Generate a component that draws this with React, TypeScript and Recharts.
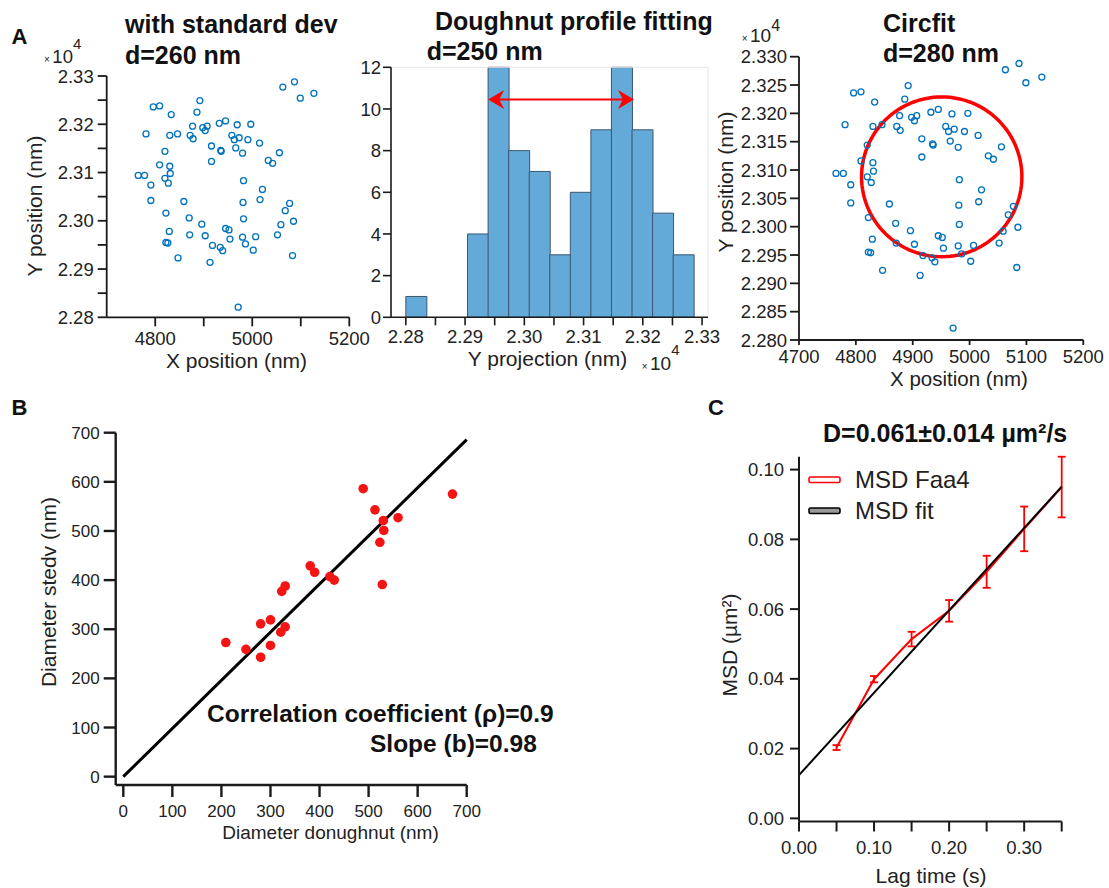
import React from "react";
import {
  ComposedChart,
  BarChart,
  Bar,
  Scatter,
  Line,
  XAxis,
  YAxis,
  ErrorBar,
  ReferenceLine,
  Legend,
} from "recharts";

const FONT = "Arial, 'Liberation Sans', sans-serif";
const INK = "#222";

// Panel A: single-molecule localisations (nm)
const LOC_X = [
  5063, 5087, 5099, 5127, 4796, 4809, 4892, 4886, 4833, 4781, 4830, 4846, 4877, 4872, 4878, 4898,
  4907, 4903, 4932, 4945, 4969, 4997, 4958, 4963, 4973, 4991, 4966, 4980, 5015, 4916, 4935, 4936,
  4916, 4820, 4809, 4830, 4831, 4820, 4827, 4765, 4778, 4791, 4791, 5033, 5042, 5056, 4982, 5021,
  5016, 4981, 5077, 5068, 4859, 4822, 4870, 4896, 4982, 5059, 5085, 4829, 4871, 4903, 4945, 4952,
  4980, 5007, 5052, 4954, 4986, 4822, 4826, 4918, 4934, 4939, 5002, 4847, 4913, 5083, 4971,
];
const LOC_Y = [
  23277, 23288, 23254, 23264, 23236, 23238, 23249, 23225, 23220, 23180, 23177, 23180, 23196, 23177,
  23170, 23193, 23196, 23187, 23202, 23207, 23199, 23200, 23177, 23168, 23172, 23168, 23151, 23140,
  23161, 23155, 23146, 23144, 23123, 23144, 23116, 23113, 23098, 23088, 23078, 23094, 23094, 23074,
  23042, 23125, 23119, 23141, 23083, 23065, 23044, 23038, 23036, 23021, 23040, 23016, 23006, 22993,
  23004, 22992, 22999, 22978, 22971, 22969, 22984, 22981, 22966, 22967, 22971, 22962, 22952, 22955,
  22954, 22949, 22945, 22938, 22939, 22923, 22914, 22928, 22821,
];

// Y projection histogram
const BIN_CENTERS = [
  22817.4, 22852.1, 22886.8, 22921.5, 22956.2, 22990.9, 23025.6, 23060.3, 23095.0, 23129.7,
  23164.4, 23199.1, 23233.8, 23268.5,
];
const BIN_COUNTS = [1, 0, 0, 4, 12, 8, 7, 3, 6, 9, 12, 9, 5, 3];
const ARROW_FROM = 22939;
const ARROW_TO = 23185;
const ARROW_LEVEL = 10.46;

// circle fit
const CIRCLE_CX = 4951;
const CIRCLE_CY = 23088;
const CIRCLE_R = 141;

// Panel B
const DONUT_D = [209, 250, 280, 280, 300, 300, 321, 330, 323, 330, 381, 390, 421, 430, 489, 513, 530, 531, 523, 528, 560, 671];
const STDEV_D = [273, 259, 311, 243, 319, 267, 294, 305, 377, 388, 429, 416, 407, 400, 586, 543, 521, 501, 477, 391, 527, 575];
const B_FIT_X = [0, 700];
const B_FIT_Y = [0, 686];

// Panel C
const LAG = [0.05, 0.1, 0.15, 0.2, 0.25, 0.3, 0.35];
const MSD = [0.0203, 0.0399, 0.0514, 0.0595, 0.0707, 0.083, 0.095];
const MSD_ERR = [0.0007, 0.0009, 0.0021, 0.0031, 0.0046, 0.0064, 0.0087];
const FIT_LAG = [0, 0.35];
const FIT_MSD = [0.0124, 0.0951];

// ticks
const POS_TICKS_A1 = [4800, 4900, 5000, 5100, 5200];
const POS_TICKS_A3 = [4700, 4800, 4900, 5000, 5100, 5200];
const Y_TICKS_A = [22800, 22850, 22900, 22950, 23000, 23050, 23100, 23150, 23200, 23250, 23300];
const COUNT_TICKS = [0, 2, 4, 6, 8, 10, 12];
const B_TICKS = [0, 100, 200, 300, 400, 500, 600, 700];
const LAG_TICKS = [0, 0.05, 0.1, 0.15, 0.2, 0.25, 0.3, 0.35];
const MSD_TICKS = [0, 0.02, 0.04, 0.06, 0.08, 0.1];

const locs = LOC_X.map((x, i) => ({ x, y: LOC_Y[i] }));
const hist = BIN_CENTERS.map((center, i) => ({ center, count: BIN_COUNTS[i] }));
const circle = Array.from({ length: 121 }, (_, i) => {
  const t = (i / 120) * 2 * Math.PI;
  return { x: CIRCLE_CX + CIRCLE_R * Math.cos(t), y: CIRCLE_CY + CIRCLE_R * Math.sin(t) };
});
const bPts = DONUT_D.map((x, i) => ({ x, y: STDEV_D[i] }));
const bFit = B_FIT_X.map((x, i) => ({ x, y: B_FIT_Y[i] }));
const msdData = LAG.map((lag, i) => ({ lag, msd: MSD[i], err: MSD_ERR[i] }));
const msdFit = FIT_LAG.map((lag, i) => ({ lag, fit: FIT_MSD[i] }));

const axisStyle = (w: number) => ({ stroke: "#1a1a1a", strokeWidth: w });
const tickStyle = (size: number) => ({ fill: INK, fontSize: size });

const sci = (digits: number) => (v: number) => (v / 1e4).toFixed(digits);

function Hollow(p: any) {
  return <circle cx={p.cx} cy={p.cy} r={3} fill="none" stroke="#0072BD" strokeWidth={1.3} />;
}

function RedDot(p: any) {
  return <circle cx={p.cx} cy={p.cy} r={4.8} fill="#f41414" />;
}

function DoubleArrow(p: any) {
  const { x1, y1, x2 } = p;
  const L = 16;
  const H = 9.5;
  const N = 5;
  return (
    <g>
      <line x1={x1 + 6} y1={y1} x2={x2 - 6} y2={y1} stroke="#f00" strokeWidth={2} />
      <path d={`M${x1},${y1} L${x1 + L},${y1 - H} L${x1 + L - N},${y1} L${x1 + L},${y1 + H} Z`} fill="#f00" />
      <path d={`M${x2},${y1} L${x2 - L},${y1 - H} L${x2 - L + N},${y1} L${x2 - L},${y1 + H} Z`} fill="#f00" />
    </g>
  );
}

function MsdLegend({ payload }: any) {
  return (
    <div>
      {(payload || []).map((e: any) => (
        <div key={e.value} style={{ display: "flex", alignItems: "center", height: 30.5 }}>
          <svg width={34} height={10} style={{ marginRight: 13 }}>
            <rect
              x={1}
              y={2}
              width={31}
              height={5.5}
              rx={1.5}
              fill={e.color === "#000" ? "#999" : "#fff"}
              stroke={e.color}
              strokeWidth={1.6}
            />
          </svg>
          <span style={{ fontSize: 24, color: INK, lineHeight: "30px" }}>{e.value}</span>
        </div>
      ))}
    </div>
  );
}

function Exp({ x, y, size, sup, dy, dx }: { x: number; y: number; size: number; sup: number; dy: number; dx: number }) {
  return (
    <text x={x} y={y} fontSize={size} fill={INK}>
      <tspan fontSize={10}>×</tspan>
      <tspan dx={2.5}>10</tspan>
      <tspan fontSize={sup} dy={dy} dx={dx}>
        4
      </tspan>
    </text>
  );
}

function VLabel({ x, y, size, children }: any) {
  return (
    <text transform={`translate(${x},${y}) rotate(-90)`} textAnchor="middle" fontSize={size} fill={INK}>
      {children}
    </text>
  );
}

export default function App() {
  return (
    <div style={{ position: "relative", width: 1109, height: 888, background: "#fff", fontFamily: FONT }}>
      <style>{"body{margin:0}"}</style>

      {/* A: with standard dev */}
      <div style={{ position: "absolute", left: 0, top: 60 }}>
        <ComposedChart width={380} height={330} margin={{ top: 16, right: 30.7, left: 0, bottom: 0 }}>
          <XAxis
            type="number"
            dataKey="x"
            domain={[4700, 5200]}
            ticks={POS_TICKS_A1}
            interval={0}
            tickFormatter={(v: number) => (v % 200 === 0 ? String(v) : "")}
            height={72.7}
            tickSize={9}
            tickMargin={6}
            tick={tickStyle(18.5)}
            axisLine={axisStyle(1.8)}
            tickLine={axisStyle(1.8)}
          />
          <YAxis
            type="number"
            dataKey="y"
            domain={[22800, 23300]}
            ticks={Y_TICKS_A}
            interval={0}
            tickFormatter={(v: number) => (v % 100 === 0 ? sci(2)(v) : "")}
            width={106.7}
            tickSize={9}
            tickMargin={4}
            tick={tickStyle(18.5)}
            axisLine={axisStyle(1.8)}
            tickLine={axisStyle(1.8)}
          />
          <Scatter data={locs} shape={Hollow} isAnimationActive={false} />
        </ComposedChart>
      </div>

      {/* A: doughnut profile histogram */}
      <div style={{ position: "absolute", left: 355, top: 50 }}>
        <BarChart
          width={380}
          height={300}
          data={hist}
          margin={{ top: 17.3, right: 27, left: 0, bottom: 0 }}
          barCategoryGap={0}
          barGap={0}
        >
          <XAxis
            type="number"
            dataKey="center"
            domain={[22775, 23310]}
            ticks={Y_TICKS_A}
            interval={0}
            tickFormatter={(v: number) => (v % 100 === 0 ? sci(2)(v) : "")}
            height={32.7}
            tickSize={8}
            tickMargin={5}
            tick={tickStyle(18.5)}
            axisLine={axisStyle(1.6)}
            tickLine={axisStyle(1.6)}
          />
          <YAxis
            type="number"
            domain={[0, 12]}
            ticks={COUNT_TICKS}
            interval={0}
            width={36}
            tickSize={8}
            tickMargin={2}
            tick={tickStyle(18.5)}
            axisLine={axisStyle(1.6)}
            tickLine={axisStyle(1.6)}
          />
          <ReferenceLine y={12} stroke="#e4e4e4" />
          <ReferenceLine x={23310} stroke="#e4e4e4" />
          <Bar dataKey="count" fill="#64AAD8" stroke="#3a5670" strokeWidth={1} isAnimationActive={false} />
          <ReferenceLine
            segment={[
              { x: ARROW_FROM, y: ARROW_LEVEL },
              { x: ARROW_TO, y: ARROW_LEVEL },
            ]}
            shape={DoubleArrow}
          />
        </BarChart>
      </div>

      {/* A: circfit */}
      <div style={{ position: "absolute", left: 700, top: 40 }}>
        <ComposedChart width={420} height={330} margin={{ top: 16.7, right: 36.7, left: 0, bottom: 0 }}>
          <XAxis
            type="number"
            dataKey="x"
            domain={[4700, 5200]}
            ticks={POS_TICKS_A3}
            interval={0}
            height={30}
            tickSize={5}
            tickMargin={5}
            tick={tickStyle(18.5)}
            axisLine={axisStyle(1.8)}
            tickLine={axisStyle(1.8)}
          />
          <YAxis
            type="number"
            dataKey="y"
            domain={[22800, 23300]}
            ticks={Y_TICKS_A}
            interval={0}
            tickFormatter={sci(3)}
            width={99}
            tickSize={9}
            tickMargin={3}
            tick={tickStyle(18.5)}
            axisLine={axisStyle(1.8)}
            tickLine={axisStyle(1.8)}
          />
          <Scatter data={locs} shape={Hollow} isAnimationActive={false} />
          <Line data={circle} dataKey="y" type="linear" stroke="#f00" strokeWidth={3.5} dot={false} isAnimationActive={false} />
        </ComposedChart>
      </div>

      {/* B */}
      <div style={{ position: "absolute", left: 0, top: 420 }}>
        <ComposedChart width={500} height={420} margin={{ top: 12.7, right: 33.3, left: 0, bottom: 0 }}>
          <XAxis
            type="number"
            dataKey="x"
            domain={[-15.5, 700]}
            ticks={B_TICKS}
            interval={0}
            height={55}
            tickSize={12}
            tickMargin={8}
            tick={tickStyle(17)}
            axisLine={axisStyle(2.4)}
            tickLine={axisStyle(2.4)}
          />
          <YAxis
            type="number"
            dataKey="y"
            domain={[-17, 700]}
            ticks={B_TICKS}
            interval={0}
            width={115.7}
            tickSize={12}
            tickMargin={4}
            tick={tickStyle(17)}
            axisLine={axisStyle(2.4)}
            tickLine={axisStyle(2.4)}
          />
          <Line data={bFit} dataKey="y" type="linear" stroke="#000" strokeWidth={3} dot={false} isAnimationActive={false} />
          <Scatter data={bPts} shape={RedDot} isAnimationActive={false} />
        </ComposedChart>
      </div>

      {/* C */}
      <div style={{ position: "absolute", left: 700, top: 440 }}>
        <ComposedChart width={400} height={420} margin={{ top: 16.7, right: 38.3, left: 0, bottom: 0 }}>
          <XAxis
            type="number"
            dataKey="lag"
            domain={[0, 0.35]}
            ticks={LAG_TICKS}
            interval={0}
            tickFormatter={(v: number) => (Math.round(v * 100) % 10 === 0 ? v.toFixed(2) : "")}
            height={38.5}
            tickSize={10}
            tickMargin={9}
            tick={tickStyle(18.5)}
            axisLine={axisStyle(2)}
            tickLine={axisStyle(2)}
          />
          <YAxis
            type="number"
            domain={[-0.0009, 0.1033]}
            ticks={MSD_TICKS}
            interval={0}
            tickFormatter={(v: number) => v.toFixed(2)}
            width={99}
            tickSize={9}
            tickMargin={6}
            tick={tickStyle(18.5)}
            axisLine={axisStyle(2)}
            tickLine={axisStyle(2)}
          />
          <Line data={msdData} dataKey="msd" name="MSD Faa4" type="linear" stroke="#f00" strokeWidth={2} dot={false} isAnimationActive={false}>
            <ErrorBar dataKey="err" direction="y" width={4} stroke="#f00" strokeWidth={1.8} />
          </Line>
          <Line data={msdFit} dataKey="fit" name="MSD fit" type="linear" stroke="#000" strokeWidth={2} dot={false} isAnimationActive={false} />
          <Legend
            layout="vertical"
            align="center"
            verticalAlign="middle"
            content={MsdLegend}
            wrapperStyle={{ top: 25, left: 108 }}
          />
        </ComposedChart>
      </div>

      {/* titles, panel letters and axis labels */}
      <svg
        width={1109}
        height={888}
        style={{ position: "absolute", left: 0, top: 0, pointerEvents: "none", fontFamily: FONT }}
      >
        <g fontWeight="bold" fill="#111">
          <text x={11.5} y={44.3} fontSize={22}>A</text>
          <text x={11.5} y={415} fontSize={22}>B</text>
          <text x={708} y={415} fontSize={22}>C</text>
          <text x={125} y={33} fontSize={25}>with standard dev</text>
          <text x={125} y={64} fontSize={25}>d=260 nm</text>
          <text x={435} y={29.5} fontSize={25}>Doughnut profile fitting</text>
          <text x={426.7} y={60} fontSize={25}>d=250 nm</text>
          <text x={883} y={32} fontSize={25}>Circfit</text>
          <text x={883} y={62} fontSize={25}>d=280 nm</text>
          <text x={207} y={721.7} fontSize={24.5}>Correlation coefficient (ρ)=0.9</text>
          <text x={370} y={751.7} fontSize={24.5}>Slope (b)=0.98</text>
          <text x={823} y={441.7} fontSize={25}>D=0.061±0.014 µm²/s</text>
        </g>

        <Exp x={44} y={62.7} size={18.5} sup={15} dy={-13.4} dx={0} />
        <Exp x={641.7} y={370} size={19} sup={15} dy={-15} dx={0} />
        <Exp x={741.7} y={41.7} size={19} sup={16} dy={-10.7} dx={0} />

        <VLabel x={41.7} y={206} size={21}>Y position (nm)</VLabel>
        <text x={236.5} y={368} fontSize={21} textAnchor="middle" fill={INK}>X position (nm)</text>
        <text x={547.5} y={366} fontSize={21} textAnchor="middle" fill={INK}>Y projection (nm)</text>
        <VLabel x={733} y={182} size={21}>Y position (nm)</VLabel>
        <text x={959} y={386} fontSize={20.5} textAnchor="middle" fill={INK}>X position (nm)</text>
        <VLabel x={56} y={592} size={21}>Diameter stedv (nm)</VLabel>
        <text x={330.5} y={839} fontSize={19} textAnchor="middle" fill={INK}>Diameter donughnut (nm)</text>
        <VLabel x={737} y={645} size={21}>MSD (µm²)</VLabel>
        <text x={931} y={883} fontSize={21} textAnchor="middle" fill={INK}>Lag time (s)</text>
      </svg>
    </div>
  );
}
